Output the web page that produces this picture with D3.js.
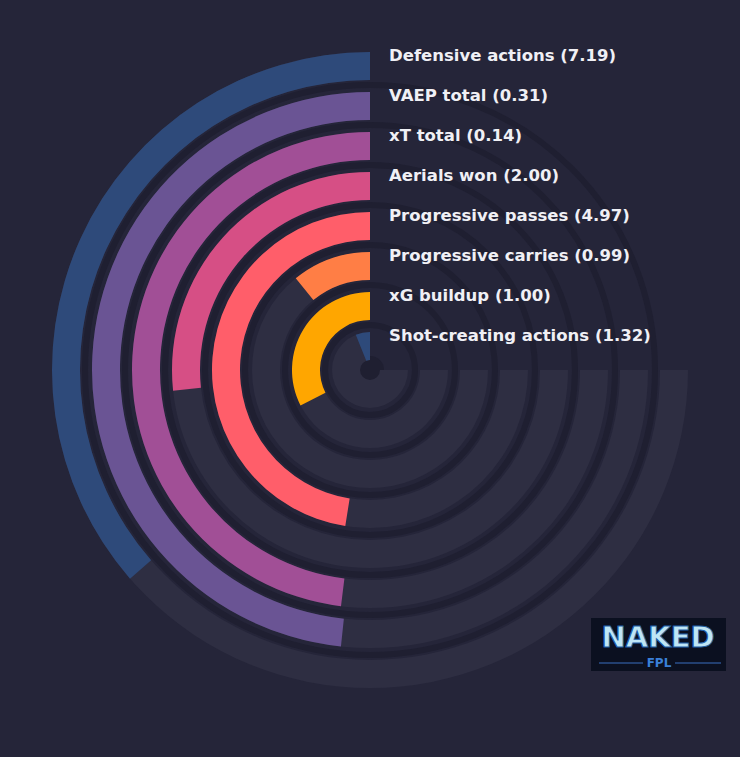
<!DOCTYPE html>
<html><head><meta charset="utf-8">
<script src="https://cdn.jsdelivr.net/npm/d3@7"></script>
<style>body{margin:0;background:#252539;}svg{display:block}</style>
</head><body>
<svg id="c" width="740" height="757"></svg>
<script>
const labels = ["Defensive actions (7.19)","VAEP total (0.31)","xT total (0.14)","Aerials won (2.00)","Progressive passes (4.97)","Progressive carries (0.99)","xG buildup (1.00)","Shot-creating actions (1.32)"];
const sweepDeg = [131,174,173,96,171,39,117,22];
const colors = ["#2e4a7a","#6a5494","#a14f96","#d64f85","#ff5e6a","#ff7e45","#ffa600","#2e4a7a"];

const svg = d3.select("#c");
const cx=370, cy=370;
const g = svg.append("g").attr("transform",`translate(${cx},${cy})`);
const rOuter = d3.scaleLinear().domain([0,labels.length-1]).range([318,38]);
const ang = d3.scaleLinear().domain([0,360]).range([0,2*Math.PI]);
const thick = 28;
const arc = d3.arc();
// gap rings
labels.forEach((l,i)=>{
  g.append("circle").attr("r",rOuter(i)-thick-5).attr("fill","none").attr("stroke","#1f1f31").attr("stroke-width",6);
});
g.append("circle").attr("r",14).attr("fill","#1f1f31");
labels.forEach((l,i)=>{
  const ro=rOuter(i), ri=ro-thick;
  g.append("path").attr("d",arc({innerRadius:ri,outerRadius:ro,startAngle:0,endAngle:-ang(270)})).attr("fill","#2e2e42");
  g.append("path").attr("d",arc({innerRadius:ri,outerRadius:ro,startAngle:0,endAngle:-ang(sweepDeg[i])})).attr("fill",colors[i]);
  svg.append("text").attr("x",389).attr("y",cy-ro+4).attr("dominant-baseline","middle")
    .attr("fill","#f0f0f5").attr("font-family","DejaVu Sans").attr("font-weight","bold").attr("font-size",16.5).text(l);
});
// logo
const lg = svg.append("g").attr("transform","translate(591,618)");
lg.append("rect").attr("width",135).attr("height",53).attr("fill","#0b1020");
lg.append("text").attr("x",67).attr("y",29).attr("text-anchor","middle").attr("font-family","DejaVu Sans").attr("font-weight","bold").attr("font-size",29).attr("fill","#bfe6f5").attr("stroke","#1e5fa8").attr("stroke-width",1).text("NAKED");
lg.append("line").attr("x1",8).attr("x2",130).attr("y1",45).attr("y2",45).attr("stroke","#3a6fc0");
lg.append("rect").attr("x",52).attr("y",36).attr("width",32).attr("height",15).attr("fill","#0b1020");
lg.append("text").attr("x",68).attr("y",49).attr("text-anchor","middle").attr("font-family","DejaVu Sans").attr("font-weight","bold").attr("font-size",12).attr("fill","#3a7fd8").text("FPL");
</script>
</body></html>
